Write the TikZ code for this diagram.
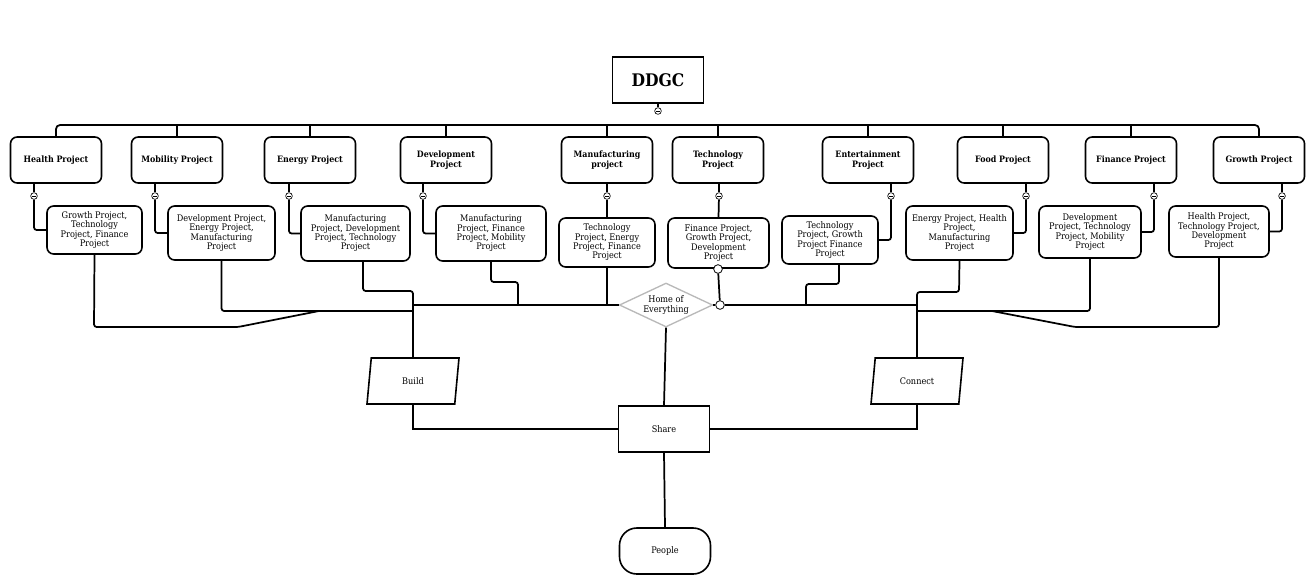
\documentclass[tikz,border=0pt]{standalone}
\usepackage{fontspec}
\setmainfont{DejaVu Serif Condensed}
\usetikzlibrary{shapes.geometric}
\begin{document}
\begin{tikzpicture}[x=0.75pt,y=-0.75pt,
  ln/.style={line width=1.3pt},
  top/.style={draw,line width=1.2pt,rounded corners=5pt,minimum width=68.25pt,minimum height=34.5pt,align=center,font=\bfseries\fontsize{6.6}{7}\selectfont,inner sep=1pt},
  kid/.style={draw,line width=1.2pt,rounded corners=5pt,align=center,font=\fontsize{6.8}{7}\selectfont,inner sep=1pt},
  mn/.style={draw,circle,fill=white,line width=0.5pt,minimum size=5pt,inner sep=0pt,path picture={\draw (path picture bounding box.west)++(1pt,0)--++(3pt,0);}},
  oc/.style={draw,circle,fill=white,line width=0.6pt,minimum size=6.5pt,inner sep=0pt},
  par/.style={draw,line width=1.2pt,trapezium,trapezium left angle=75,trapezium right angle=105,trapezium stretches body,minimum width=69pt,minimum height=34.5pt,inner xsep=0pt,font=\fontsize{6.8}{7}\selectfont}]
\useasboundingbox (0,0) rectangle (1309,583);
\node[draw,line width=1.3pt,minimum width=68.25pt,minimum height=34.5pt,font=\bfseries\fontsize{13}{14}\selectfont] (ddgc) at (658,80) {DDGC};
\node[mn] (dm) at (658,111) {};
\foreach \n/\x/\t in {h/56/Health Project,m/177/Mobility Project,e/310/Energy Project,d/446/Development\\Project,mf/607/Manufacturing\\project,t/718/Technology\\Project,en/868/Entertainment\\Project,f/1003/Food Project,fi/1131/Finance Project,g/1259/Growth Project}
  \node[top] (\n) at (\x,160) {\t};
\coordinate (bl) at (56,125); \coordinate (br) at (1259,125);
\draw[ln] (ddgc) -- (dm);
\draw[ln,rounded corners=3pt] (h.north) |- (br) -- (g.north);
\foreach \n in {m,e,d,mf,t,en,f,fi} \draw[ln] (\n.north) -- (\n.north |- bl);
% children
\node[kid,minimum width=71.25pt,minimum height=36pt] (hc) at (94.5,230) {Growth Project,\\Technology\\Project, Finance\\Project};
\node[kid,minimum width=80.25pt,minimum height=40.5pt] (mc) at (221.5,233) {Development Project,\\Energy Project,\\Manufacturing\\Project};
\node[kid,minimum width=81.75pt,minimum height=41.25pt] (ec) at (355.5,233.5) {Manufacturing\\Project, Development\\Project, Technology\\Project};
\node[kid,minimum width=82.5pt,minimum height=41.25pt] (dc) at (491,233.5) {Manufacturing\\Project, Finance\\Project, Mobility\\Project};
\node[kid,minimum width=72pt,minimum height=36.75pt] (mfc) at (607,242.5) {Technology\\Project, Energy\\Project, Finance\\Project};
\node[kid,minimum width=75.75pt,minimum height=37.5pt] (tc) at (718.5,243) {Finance Project,\\Growth Project,\\Development\\Project};
\node[kid,minimum width=72pt,minimum height=36pt] (enc) at (830,240) {Technology\\Project, Growth\\Project Finance\\Project};
\node[kid,minimum width=80.25pt,minimum height=40.5pt] (fc) at (959.5,233) {Energy Project, Health\\Project,\\Manufacturing\\Project};
\node[kid,minimum width=76.5pt,minimum height=39pt] (fic) at (1090,232) {Development\\Project, Technology\\Project, Mobility\\Project};
\node[kid,minimum width=75pt,minimum height=38.25pt] (gc) at (1219,231.5) {Health Project,\\Technology Project,\\Development\\Project};
% collapse markers
\foreach \n/\x in {h/34,m/155,e/289,d/423,mf/607,t/719,en/891,f/1026,fi/1154,g/1282}
  \node[mn] (\n m) at (\x,196) {};
\foreach \n/\x in {h/34,m/155,e/289,d/423,mf/607,t/719,en/891,f/1026,fi/1154,g/1282}
  \draw[ln] (\n m |- \n.south) -- (\n m);
\foreach \n in {h,m,e,d} \draw[ln,rounded corners=2pt] (\n m) |- (\n c.west);
\foreach \n in {en,f,fi,g} \draw[ln,rounded corners=2pt] (\n m) |- (\n c.east);
\draw[ln] (mfm) -- (mfc.north);
\draw[ln] (tm) -- (tc.north);
% lower structure
\node[draw=gray!55,line width=1pt,diamond,aspect=2.3,minimum width=70pt,minimum height=33pt,inner sep=0pt,font=\fontsize{6.8}{7}\selectfont,align=center,fill=white] (home) at (666,305) {Home of\\Everything};
\node[par] (build) at (413,381) {Build};
\node[par] (conn) at (917,381) {Connect};
\node[draw,line width=1.2pt,minimum width=68.25pt,minimum height=34.5pt,font=\fontsize{6.8}{7}\selectfont] (share) at (664,429) {Share};
\node[draw,line width=1.2pt,rounded corners=13pt,minimum width=68.25pt,minimum height=34.5pt,font=\fontsize{6.8}{7}\selectfont] (people) at (665,551) {People};
\node[oc] (tco) at (718,269) {};
\node[oc] (hro) at (720,305) {};
\coordinate (jl) at (413,305); \coordinate (jr) at (917,305);
\coordinate (ex) at (363,0);
\draw[ln] (jl) -- (home.west);
\draw[ln] (home.east) -- (hro) -- (jr);
\draw[ln] (tco) -- (hro);
\draw[ln] (mfc.south) -- (mfc.south |- jl);
\draw[ln,rounded corners=2pt] (839,264) -- (839,284) -- (806,284) -- (806,305);
\draw[ln,rounded corners=2pt] (dc.south) -- (491,282) -- (518,282) -- (518,305);
\draw[ln,rounded corners=2pt] (ec.south -| ex) -- (363,291) -- (413,291) -- (build.north);
\draw[ln,rounded corners=2pt] (mc.south) |- (413,311);
\draw[ln,rounded corners=2pt] (hc.south) -- (94,327) -- (238,327) -- (319,311);
\draw[ln,rounded corners=2pt] (fc.south) -- (959,292) -- (917,292) -- (conn.north);
\draw[ln,rounded corners=2pt] (fic.south) |- (917,311);
\draw[ln,rounded corners=2pt] (gc.south) -- (1219,327) -- (1075,327) -- (992,311);
\draw[ln] (home.south) -- (share.north);
\draw[ln] (build.south) |- (share.west);
\draw[ln] (conn.south) |- (share.east);
\draw[ln] (share.south) -- (people.north);
\end{tikzpicture}
\end{document}
